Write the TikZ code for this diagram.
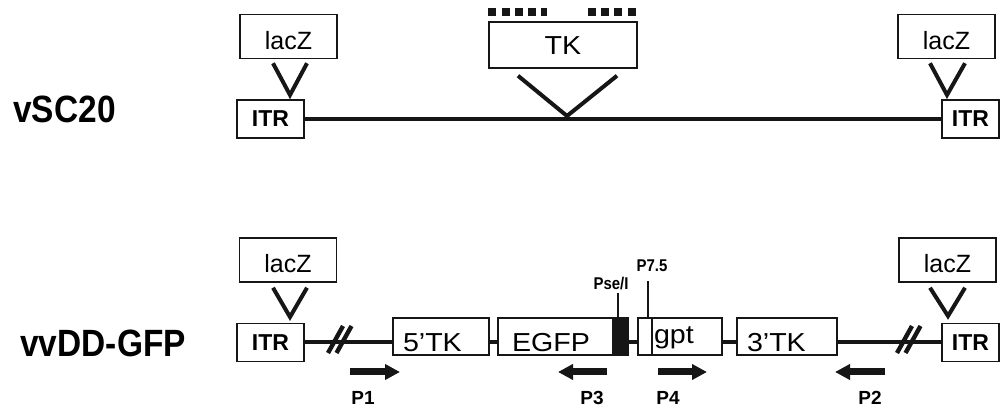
\documentclass[tikz,border=0pt]{standalone}
\usepackage{fontspec}
\setmainfont{Liberation Sans}
\newfontfamily\genefont[FakeStretch=1.1]{Liberation Sans}
\newfontfamily\namefont[FakeStretch=0.88]{Liberation Sans}
\usepackage{tikz}
\usetikzlibrary{arrows.meta,calc}
\definecolor{Ink}{HTML}{161616}

\begin{document}
\begin{tikzpicture}[x=0.5pt,y=-0.5pt]
  \path[use as bounding box] (0,0) rectangle (1001,410);
  \tikzset{
    vvBox/.style={
      draw=Ink, fill=white, line width=.75pt, inner sep=0pt
    },
    vvLac/.style={
      vvBox, minimum width=48.5pt, text height=17.5pt, text depth=4.5pt,
      font=\fontsize{12.5}{14}\selectfont
    },
    vvItr/.style={
      vvBox, minimum height=19pt, font=\bfseries\fontsize{11.5}{13}\selectfont
    },
    vvGene/.style={
      vvBox, inner xsep=5pt, align=left, text height=17pt, text depth=1.5pt,
      font=\genefont\fontsize{13}{15}\selectfont
    },
    vvBackbone/.style={draw=Ink, line width=2pt},
    vvInsert/.style={draw=Ink, line width=2pt, line join=miter},
    vvBreak/.style={draw=Ink, line width=2.2pt},
    vvMarks/.style={draw=Ink, line width=4pt, dash pattern=on 4pt off 2.65pt},
    vvTick/.style={draw=Ink, line width=.75pt},
    vvPrimer/.style={
      -{Triangle[length=7.5pt,width=7.5pt]}, draw=Ink, line width=3.5pt
    },
    vvPrimerName/.style={anchor=base, inner sep=0pt,
      font=\bfseries\fontsize{9.5}{11}\selectfont},
    vvSite/.style={anchor=base, inner sep=1pt,
      font={\namefont\bfseries\fontsize{8.5}{10}\selectfont}},
    vvVirus/.style={anchor=base west, inner sep=0pt,
      font={\namefont\bfseries\fontsize{19}{22}\selectfont}}
  }

  % vSC20
  \node[vvVirus] (vsc) at (13,123) {vSC20};
  \node[vvLac] (lacA) at (288.5,36.5) {lacZ};
  \node[vvItr, minimum width=33.5pt] (itrA) at (270.5,119) {ITR};
  \node[vvLac] (lacB) at (946.5,36.5) {lacZ};
  \node[vvItr, minimum width=28.5pt] (itrB) at (970.5,119) {ITR};
  \node[vvBox, minimum width=74pt, text height=16.5pt, text depth=6.5pt,
    font=\genefont\fontsize{13}{15}\selectfont] (tk) at (563,45) {TK};
  \coordinate (lacAsite) at (290,95);
  \coordinate (lacBsite) at (947,95);
  \coordinate (tkSite) at (567,116);

  \draw[vvBackbone] (itrA.east) -- (itrB.west);
  \draw[vvInsert] ([xshift=-7.75pt,yshift=-2pt]lacA.south) -- (lacAsite)
    -- ([xshift=9.25pt,yshift=-2pt]lacA.south);
  \draw[vvInsert] ([xshift=-8.25pt,yshift=-2pt]lacB.south) -- (lacBsite)
    -- ([xshift=9.25pt,yshift=-2pt]lacB.south);
  \draw[vvInsert] ([xshift=-22.5pt,yshift=-3.5pt]tk.south) -- (tkSite)
    -- ([xshift=27pt,yshift=-3.5pt]tk.south);
  \draw[vvMarks] ([yshift=4.5pt]tk.north west) -- ([xshift=29.5pt,yshift=4.5pt]tk.north west);
  \draw[vvMarks] ([xshift=-25pt,yshift=4.5pt]tk.north east) -- ([xshift=-1pt,yshift=4.5pt]tk.north east);

  % vvDD-GFP
  \node[vvVirus] (vvdd) at (20,357) {vvDD-GFP};
  \node[vvLac] (lacC) at (288,260) {lacZ};
  \node[vvItr, minimum width=33.5pt] (itrC) at (270.5,342.5) {ITR};
  \node[vvLac] (lacD) at (947.5,260) {lacZ};
  \node[vvItr, minimum width=28.5pt] (itrD) at (970.5,342.5) {ITR};
  \node[vvGene, text width=38pt] (tkL) at (441,336.5) {5’TK};
  \node[vvGene, text width=43.5pt, inner xsep=7pt] (egfp) at (555.5,336.5) {EGFP};
  \node[vvBox, fill=Ink, minimum width=7.5pt, minimum height=18.5pt] (pse) at (620.5,336.5) {};
  \node[vvBox, minimum width=7pt, minimum height=18.5pt] (prom) at (645,336.5) {};
  \node[vvGene, text width=33pt, inner xsep=1pt, text height=13pt, text depth=5.5pt]
    (gpt) at (687,336.5) {gpt};
  \node[vvGene, text width=40pt] (tkR) at (787,336.5) {3’TK};
  \coordinate (lacCsite) at (290,317);
  \coordinate (lacDsite) at (948,316);

  \draw[vvInsert] ([xshift=-7.5pt,yshift=-2.5pt]lacC.south) -- (lacCsite)
    -- ([xshift=9.5pt,yshift=-2.5pt]lacC.south);
  \draw[vvInsert] ([xshift=-8.75pt,yshift=-2.5pt]lacD.south) -- (lacDsite)
    -- ([xshift=8.75pt,yshift=-2.5pt]lacD.south);

  \draw[vvBackbone] (itrC.east) -- (itrC.east -| tkL.west);
  \draw[vvBackbone] (tkL.east |- itrC.east) -- (egfp.west |- itrC.east);
  \draw[vvBackbone] (pse.east |- itrC.east) -- (prom.west |- itrC.east);
  \draw[vvBackbone] (gpt.east |- itrC.east) -- (tkR.west |- itrC.east);
  \draw[vvBackbone] (tkR.east |- itrC.east) -- (itrD.west);
  \foreach \bx in {328,897}
    \draw[vvBreak] (\bx,353) -- ++(15,-27) (\bx+8.5,353) -- ++(15,-27);

  \node[vvSite] (pseLbl) at (611,290) {Pse/I};
  \node[vvSite] (promLbl) at (652,272) {P7.5};
  \draw[vvTick] ([xshift=-1.25pt]pse.north) -- ([xshift=-1.25pt]pse.north |- pseLbl.south);
  \draw[vvTick] ([xshift=1.5pt]prom.north)
    -- ([xshift=1.5pt,yshift=-3pt]prom.north |- promLbl.south);

  % primers
  \coordinate (p1a) at (350,372); \coordinate (p1b) at (400,372);
  \coordinate (p3a) at (607,372); \coordinate (p3b) at (558,372);
  \coordinate (p4a) at (658,372); \coordinate (p4b) at (707,372);
  \coordinate (p2a) at (885,372); \coordinate (p2b) at (835,372);
  \draw[vvPrimer] (p1a) -- (p1b);
  \draw[vvPrimer] (p3a) -- (p3b);
  \draw[vvPrimer] (p4a) -- (p4b);
  \draw[vvPrimer] (p2a) -- (p2b);
  \node[vvPrimerName] (p1) at (363,405) {P1};
  \node[vvPrimerName] (p3) at (592,405) {P3};
  \node[vvPrimerName] (p4) at (668,405) {P4};
  \node[vvPrimerName] (p2) at (870,405) {P2};
\end{tikzpicture}
\end{document}
